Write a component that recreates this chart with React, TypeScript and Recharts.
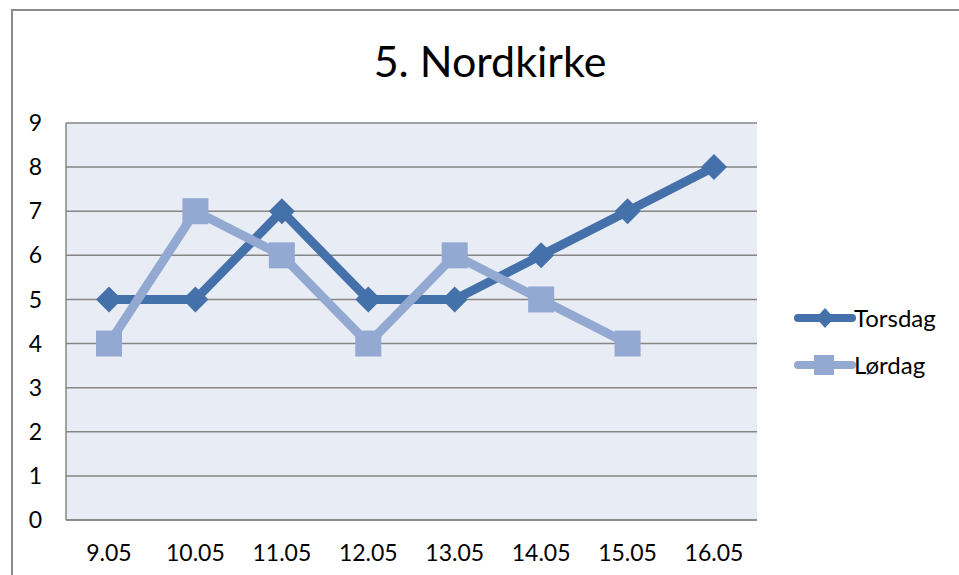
import React from "react";
import { LineChart, Line, XAxis, YAxis, CartesianGrid } from "recharts";

const dates = ["9.05", "10.05", "11.05", "12.05", "13.05", "14.05", "15.05", "16.05"];
const torsdag = [5, 5, 7, 5, 5, 6, 7, 8];
const lordag: (number | null)[] = [4, 7, 6, 4, 6, 5, 4, null];
const yTicks = [0, 1, 2, 3, 4, 5, 6, 7, 8, 9];

const DARK = "#4571AB";
const LIGHT = "#93A9D2";
const FONT = "Lato, 'Open Sans', sans-serif";

const data = dates.map((d, i) => ({ date: d, Torsdag: torsdag[i], Lordag: lordag[i] }));

const Diamond = (props: any) => {
    const { cx, cy, value } = props;
    if (value == null || cx == null) return null;
    return (
        <polygon
            key={`d-${cx}`}
            points={`${cx},${cy - 13} ${cx + 13},${cy} ${cx},${cy + 13} ${cx - 13},${cy}`}
            fill={DARK}
        />
    );
};

const Square = (props: any) => {
    const { cx, cy, value } = props;
    if (value == null || cx == null) return null;
    return <rect key={`s-${cx}`} x={cx - 13} y={cy - 13} width={26} height={26} fill={LIGHT} />;
};

const legendItems = [
    { name: "Torsdag", color: DARK, shape: "d" },
    { name: "Lørdag", color: LIGHT, shape: "s" },
];

export default function App() {
    return (
        <div
            style={{
                position: "fixed",
                left: 0,
                top: 0,
                width: 959,
                height: 575,
                overflow: "hidden",
                background: "#fff",
            }}
        >
            {/* outer chart frame */}
            <div
                style={{
                    position: "absolute",
                    left: 11,
                    top: 9,
                    width: 1000,
                    height: 700,
                    border: "2px solid #8a8a8a",
                }}
            />
            <div
                style={{
                    position: "absolute",
                    left: 0,
                    top: 35,
                    width: 980,
                    textAlign: "center",
                    fontFamily: FONT,
                    fontSize: 43,
                    lineHeight: "52px",
                    color: "#000",
                }}
            >
                5. Nordkirke
            </div>
            <div style={{ position: "absolute", left: 0, top: 0 }}>
                <LineChart
                    width={959}
                    height={575}
                    data={data}
                    margin={{ top: 123, right: 202, bottom: 0, left: 26 }}
                >
                    <CartesianGrid
                        vertical={false}
                        stroke="#868686"
                        strokeWidth={1.5}
                        fill="#E8ECF4"
                        fillOpacity={1}
                    />
                    <XAxis
                        dataKey="date"
                        padding={{ left: 43, right: 43 }}
                        axisLine={{ stroke: "#868686", strokeWidth: 1.5 }}
                        tickLine={false}
                        tickSize={0}
                        tickMargin={25}
                        height={55}
                        tick={{ fontFamily: FONT, fontSize: 23, fill: "#000" }}
                        interval={0}
                    />
                    <YAxis
                        domain={[0, 9]}
                        ticks={yTicks}
                        width={40}
                        axisLine={{ stroke: "#868686", strokeWidth: 1.5 }}
                        tickLine={false}
                        tickSize={0}
                        tickMargin={24}
                        tick={{ fontFamily: FONT, fontSize: 23, fill: "#000" }}
                        interval={0}
                    />
                    <Line
                        dataKey="Torsdag"
                        name="Torsdag"
                        stroke={DARK}
                        strokeWidth={9}
                        strokeLinejoin="round"
                        dot={<Diamond />}
                        activeDot={false}
                        isAnimationActive={false}
                    />
                    <Line
                        dataKey="Lordag"
                        name="Lørdag"
                        stroke={LIGHT}
                        strokeWidth={9}
                        strokeLinejoin="round"
                        dot={<Square />}
                        activeDot={false}
                        isAnimationActive={false}
                    />
                </LineChart>
            </div>
            {/* legend */}
            <div
                style={{
                    position: "absolute",
                    left: 792,
                    top: 294,
                    fontFamily: FONT,
                    fontSize: 24,
                    color: "#000",
                }}
            >
                {legendItems.map((it) => (
                    <div key={it.name} style={{ display: "flex", alignItems: "center", height: 47 }}>
                        <svg width={64} height={26}>
                            <line x1={6} y1={13} x2={60} y2={13} stroke={it.color} strokeWidth={8} strokeLinecap="round" />
                            {it.shape === "d" ? (
                                <polygon points="33,3 42,13 33,23 24,13" fill={it.color} />
                            ) : (
                                <rect x={22} y={3} width={20} height={20} fill={it.color} />
                            )}
                        </svg>
                        <span style={{ marginLeft: -2 }}>{it.name}</span>
                    </div>
                ))}
            </div>
        </div>
    );
}
